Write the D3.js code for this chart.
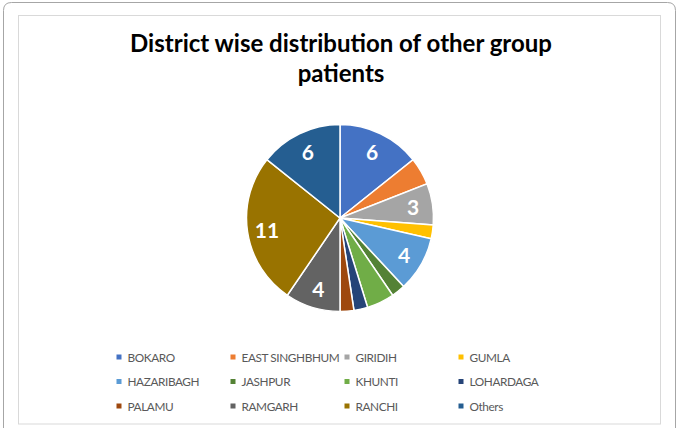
<!DOCTYPE html>
<html>
<head>
<meta charset="utf-8">
<script src="https://cdn.jsdelivr.net/npm/d3@7"></script>
<style>
    body { margin: 0; background: #fff; }
    svg { display: block; }
    .chart-title { font-family: Lato, 'Open Sans', sans-serif; font-weight: bold; font-size: 24px; fill: #000; text-anchor: middle; }
    .slice-label { font-family: Lato, 'Open Sans', sans-serif; font-weight: bold; font-size: 21px; fill: #fff; text-anchor: middle; dominant-baseline: central; }
    .legend-text { font-family: Lato, 'Open Sans', sans-serif; font-size: 11.8px; letter-spacing: -0.4px; fill: #595959; dominant-baseline: central; }
</style>
</head>
<body>
<div id="chart"></div>
<script>
var districts = ['BOKARO', 'EAST SINGHBHUM', 'GIRIDIH', 'GUMLA', 'HAZARIBAGH', 'JASHPUR',
    'KHUNTI', 'LOHARDAGA', 'PALAMU', 'RAMGARH', 'RANCHI', 'Others'];
var patients = [6, 2, 3, 1, 4, 1, 2, 1, 1, 4, 11, 6];
var labelled = [true, false, true, false, true, false, false, false, false, true, true, true];
var sliceColors = ['#4472C4', '#ED7D31', '#A5A5A5', '#FFC000', '#5B9BD5', '#548235',
    '#70AD47', '#264478', '#9E480E', '#636363', '#997300', '#255E91'];
var titleLines = ['District wise distribution of other group', 'patients'];

var width = 678,
    height = 428,
    cx = 340,
    cy = 218,
    radius = 93.5;

var svg = d3.select('#chart').append('svg')
    .attr('width', width)
    .attr('height', height);

// outer frame + plot frame
svg.append('path')
    .attr('d', 'M3.5,' + (height + 5) + ' L3.5,10.5 Q3.5,2.5 11.5,2.5 L667.5,2.5 Q675.5,2.5 675.5,10.5 L675.5,' + (height + 5))
    .attr('fill', 'none')
    .attr('stroke', '#a6a6a6')
    .attr('stroke-width', 1);

svg.append('rect')
    .attr('x', 18.5).attr('y', 15.5)
    .attr('width', 642).attr('height', 408.5)
    .attr('fill', '#fff')
    .attr('stroke', '#d9d9d9')
    .attr('stroke-width', 1);

svg.selectAll('.chart-title')
    .data(titleLines)
    .enter().append('text')
    .attr('class', 'chart-title')
    .attr('x', 341)
    .attr('y', function (d, i) { return 52 + i * 30; })
    .text(function (d) { return d; });

var data = districts.map(function (d, i) {
    return { name: d, value: patients[i], color: sliceColors[i], show: labelled[i] };
});

var pie = d3.pie().sort(null).value(function (d) { return d.value; });
var arc = d3.arc().innerRadius(0).outerRadius(radius);
var labelArc = d3.arc().innerRadius(radius * 0.79).outerRadius(radius * 0.79);

var pieG = svg.append('g')
    .attr('transform', 'translate(' + cx + ',' + cy + ')');

var arcs = pie(data);

pieG.selectAll('path')
    .data(arcs)
    .enter().append('path')
    .attr('d', arc)
    .attr('fill', function (d) { return d.data.color; })
    .attr('stroke', '#fff')
    .attr('stroke-width', 1.5);

pieG.selectAll('.slice-label')
    .data(arcs.filter(function (d) { return d.data.show; }))
    .enter().append('text')
    .attr('class', 'slice-label')
    .attr('transform', function (d) { return 'translate(' + labelArc.centroid(d) + ')'; })
    .text(function (d) { return d.data.value; });

// legend, 4 columns x 3 rows
var colX = d3.scalePoint().domain(d3.range(4)).range([119, 461]);
var rowY = d3.scalePoint().domain(d3.range(3)).range([357, 406]);

var legend = svg.selectAll('.legend')
    .data(data)
    .enter().append('g')
    .attr('class', 'legend')
    .attr('transform', function (d, i) {
        return 'translate(' + colX(i % 4) + ',' + rowY(Math.floor(i / 4)) + ')';
    });

legend.append('rect')
    .attr('x', -2.5).attr('y', -2.5)
    .attr('width', 5).attr('height', 5)
    .attr('fill', function (d) { return d.color; });

legend.append('text')
    .attr('class', 'legend-text')
    .attr('x', 8.5)
    .attr('y', 0)
    .text(function (d) { return d.name; });
</script>
</body>
</html>
